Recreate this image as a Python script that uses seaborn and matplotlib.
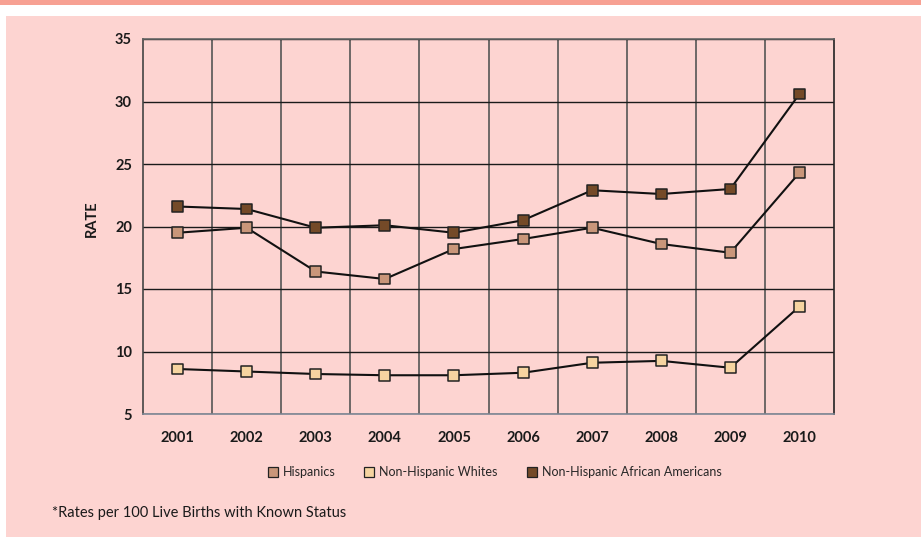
import pandas as pd
import matplotlib.pyplot as plt
import matplotlib.ticker as mtick
from matplotlib.patches import Rectangle
from matplotlib.lines import Line2D
import seaborn as sns

years = [2001, 2002, 2003, 2004, 2005, 2006, 2007, 2008, 2009, 2010]
hispanics = [19.5, 19.9, 16.4, 15.8, 18.2, 19.0, 19.9, 18.6, 17.9, 24.3]
nh_whites = [8.6, 8.4, 8.2, 8.1, 8.1, 8.3, 9.1, 9.25, 8.7, 13.6]
nh_african_americans = [21.6, 21.4, 19.9, 20.1, 19.5, 20.5, 22.9, 22.6, 23.0, 30.6]
series_names = ['Hispanics', 'Non-Hispanic Whites', 'Non-Hispanic African Americans']
y_ticks = [5, 10, 15, 20, 25, 30, 35]
footnote = '*Rates per 100 Live Births with Known Status'

marker_colors = ['#c9967a', '#f6d4a0', '#744a28']
pink = '#fdd4d1'

df = pd.DataFrame({
    'year': years * 3,
    'rate': hispanics + nh_whites + nh_african_americans,
    'group': [series_names[0]] * 10 + [series_names[1]] * 10 + [series_names[2]] * 10,
})

sns.set_style('white')
plt.rcParams['font.family'] = ['Lato', 'DejaVu Sans']

fig = plt.figure(figsize=(9.21, 5.37), dpi=100)
fig.patch.set_facecolor('white')
# pink panel + salmon band at the top (behind the axes)
fig.patches.append(Rectangle((6 / 921, 0), 1, 1 - 16 / 537, transform=fig.transFigure,
                             facecolor=pink, edgecolor='none', zorder=-10))
fig.patches.append(Rectangle((0, 1 - 4.5 / 537), 1, 4.5 / 537, transform=fig.transFigure,
                             facecolor='#f7a193', edgecolor='none', zorder=-10))

ax = fig.add_axes([143 / 921, 123 / 537, 691 / 921, 375 / 537])
ax.set_zorder(2)
ax.set_facecolor(pink)

sns.lineplot(data=df, x='year', y='rate', hue='group', palette=['#111111'] * 3,
             linewidth=1.5, legend=False, ax=ax, zorder=3)
sns.scatterplot(data=df, x='year', y='rate', hue='group', palette=marker_colors,
                marker='s', s=62, edgecolor='#222222', linewidth=1.1, legend=False,
                ax=ax, zorder=4)

ax.set_xlim(2000.5, 2010.5)
ax.set_ylim(5, 35)
ax.set_xticks(years)
ax.set_xticklabels([str(y) for y in years], fontsize=10.5, fontweight='bold')
ax.set_yticks(y_ticks)
ax.set_yticklabels([str(t) for t in y_ticks], fontsize=10.5, fontweight='bold')
ax.xaxis.set_minor_locator(mtick.FixedLocator([y + 0.5 for y in years[:-1]]))
ax.grid(axis='y', which='major', color='#1a1a1a', linewidth=1.0)
ax.grid(axis='x', which='minor', color='#555555', linewidth=1.2)
ax.grid(axis='x', which='major', visible=False)
ax.tick_params(axis='x', which='both', length=0, pad=12, colors='#1a1a1a')
ax.tick_params(axis='y', length=0, pad=8, labelcolor='#1a1a1a')
ax.set_xlabel('')
ax.set_ylabel('RATE', fontsize=10.5, fontweight='bold', color='#1a1a1a')
ax.yaxis.set_label_coords(-0.064, 0.52)

for side, col in [('top', '#666666'), ('left', '#444444'), ('right', '#222222'), ('bottom', '#7d8794')]:
    ax.spines[side].set_visible(True)
    ax.spines[side].set_color(col)
    ax.spines[side].set_linewidth(1.2)

handles = [Line2D([], [], marker='s', linestyle='none', markersize=7,
                  markerfacecolor=c, markeredgecolor='#222222', markeredgewidth=0.9)
           for c in marker_colors]
fig.legend(handles, series_names, loc='center', bbox_to_anchor=(494 / 921, 1 - 472 / 537),
           ncol=3, frameon=False, fontsize=9, handletextpad=0.3, columnspacing=2.2,
           handlelength=1.0)

fig.text(52 / 921, 1 - 513 / 537, footnote, fontsize=10.5, va='center', ha='left', color='#1a1a1a')

plt.savefig('out.png', dpi=100, facecolor=fig.get_facecolor())
